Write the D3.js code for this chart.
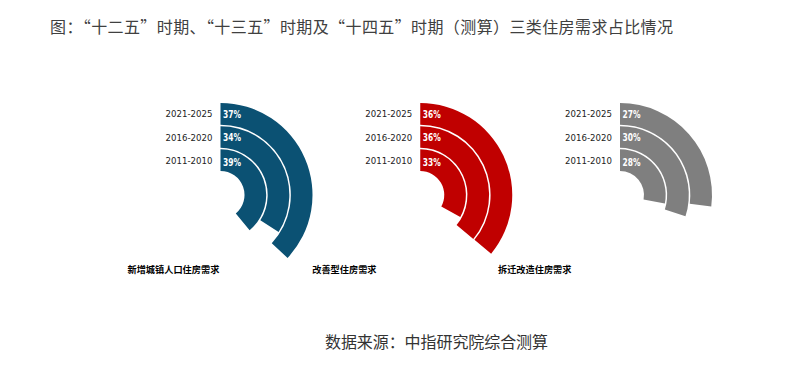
<!DOCTYPE html>
<html><head><meta charset="utf-8">
<script src="https://cdn.jsdelivr.net/npm/d3@7"></script>
<style>
body{margin:0;background:#fff;}
svg{display:block;}
</style></head>
<body><svg id="c" width="806" height="374"></svg>
<script>
const title = "图：“十二五”时期、“十三五”时期及“十四五”时期（测算）三类住房需求占比情况";
const source = "数据来源：中指研究院综合测算";
const categories = ["新增城镇人口住房需求", "改善型住房需求", "拆迁改造住房需求"];
const periods = ["2021-2025", "2016-2020", "2011-2010"];
const newUrban = [37, 34, 39];
const improvement = [36, 36, 33];
const renovation = [27, 30, 28];
const seriesValues = [newUrban, improvement, renovation];
const colors = ["#0b5173", "#c00000", "#7f7f7f"];
const labelOffsets = [-93, -108, -122];

const svg = d3.select("#c");
const cy = 195;
const cx = d3.scalePoint().domain(categories).range([220.5, 620]);
const rScale = d3.scaleBand().domain(periods).range([92, 24]).paddingInner(0.065);
const angle = d3.scaleLinear().domain([0, 100]).range([0, 2 * Math.PI]);
const arc = d3.arc();

svg.append("text").attr("x", 50).attr("y", 32.5)
  .attr("font-family", "'Noto Sans CJK SC', sans-serif").attr("font-size", 16)
  .attr("textLength", 623).attr("lengthAdjust", "spacing")
  .attr("fill", "#404040").text(title);

categories.forEach((cat, i) => {
  const g = svg.append("g").attr("transform", `translate(${cx(cat)},${cy})`);
  periods.forEach((p, j) => {
    const r0 = rScale(p), r1 = r0 + rScale.bandwidth();
    const v = seriesValues[i][j];
    g.append("path").attr("d", arc({innerRadius: r0, outerRadius: r1, startAngle: 0, endAngle: angle(v)}))
      .attr("fill", colors[i]);
    const mid = (r0 + r1) / 2;
    g.append("text").attr("x", 2.5).attr("y", -mid + 4 + (j === 2 ? 2 : 0))
      .attr("font-family", "'DejaVu Sans Condensed', sans-serif")
      .attr("font-weight", "bold").attr("font-size", 10).attr("fill", "#fff")
      .attr("textLength", 18).attr("lengthAdjust", "spacingAndGlyphs")
      .text(v + "%");
    g.append("text").attr("x", -55).attr("y", -mid + 3.5)
      .attr("font-family", "'DejaVu Sans', sans-serif")
      .attr("font-size", 8.6).attr("fill", "#222")
      .attr("textLength", 47).attr("lengthAdjust", "spacing")
      .text(p);
  });
  svg.append("text").attr("x", cx(cat) + labelOffsets[i]).attr("y", 273)
    .attr("font-family", "'Noto Sans CJK SC', sans-serif").attr("font-weight", "bold")
    .attr("font-size", 9.2).attr("fill", "#000").text(cat);
});

svg.append("text").attr("x", 325).attr("y", 347.5)
  .attr("font-family", "'Noto Sans CJK SC', sans-serif").attr("font-size", 16)
  .attr("textLength", 223).attr("lengthAdjust", "spacing")
  .attr("fill", "#333").text(source);
</script></body></html>
